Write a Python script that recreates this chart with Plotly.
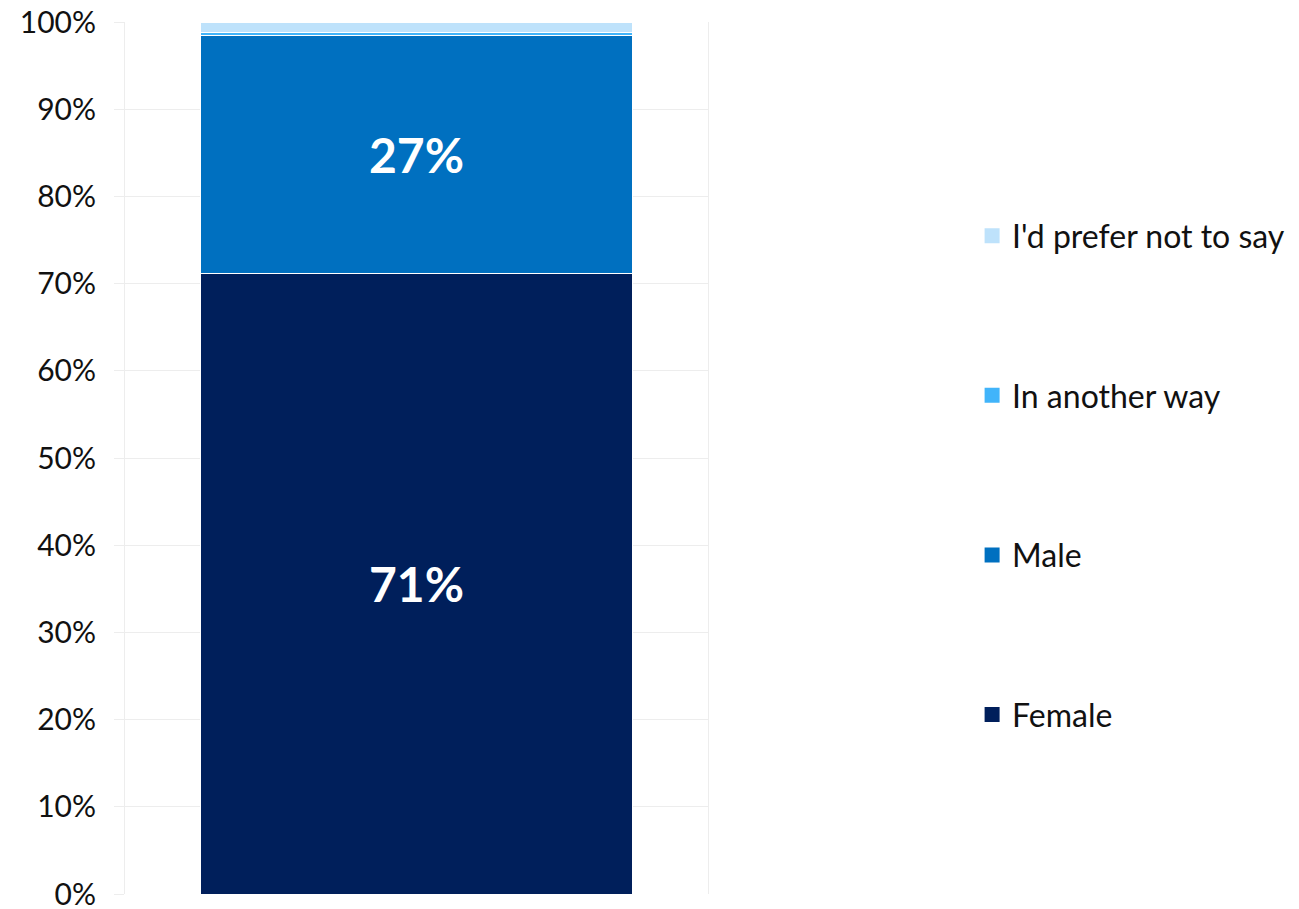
import plotly.graph_objects as go

categories = [0]
series_names = ["Female", "Male", "In another way", "I'd prefer not to say"]
series_values = [71.2, 27.3, 0.3, 1.2]
series_labels = ["71%", "27%", "", ""]
series_colors = ["#001F5B", "#0070C0", "#41B4FA", "#BEE2FB"]
y_ticks = list(range(0, 101, 10))
y_tick_labels = [f"{v}%" for v in y_ticks]

FONT = "Lato"
GRID = "#ededed"

fig = go.Figure()
for name, val, lab, col in zip(series_names, series_values, series_labels, series_colors):
    fig.add_trace(go.Bar(
        x=categories, y=[val], name=name, width=0.74,
        marker=dict(color=col, line=dict(color="white", width=1)),
        text=[lab], textposition="inside", insidetextanchor="middle",
        textfont=dict(family=FONT, size=48, color="white", weight="bold"),
        showlegend=False, hoverinfo="name+y",
    ))

# legend entries with larger square symbols (top to bottom: reversed order)
for rank, (name, col) in enumerate(zip(series_names, series_colors)):
    fig.add_trace(go.Scatter(
        x=[None], y=[None], mode="markers", name=name,
        marker=dict(symbol="square", size=15, color=col),
        legendrank=100 - rank, legendgroup=name,
    ))

fig.update_layout(
    barmode="stack",
    width=1299, height=909,
    margin=dict(l=125, r=591, t=22, b=15, autoexpand=False),
    plot_bgcolor="white", paper_bgcolor="white",
    font=dict(family=FONT, size=30, color="#111111"),
    xaxis=dict(visible=False, range=[-0.5, 0.5]),
    yaxis=dict(range=[0, 100], tickvals=y_ticks, ticktext=y_tick_labels,
               showgrid=True, gridcolor=GRID, gridwidth=1, zeroline=False,
               ticks="outside", ticklen=10, tickcolor=GRID,
               ticklabelstandoff=12, automargin=False,
               ticklabeloverflow="allow",
               showline=True, linecolor=GRID, mirror=True,
               tickfont=dict(family=FONT, size=30, color="#111111")),
    legend=dict(x=1.453, xanchor="left", y=0.48, yanchor="middle",
                traceorder="grouped", tracegroupgap=115,
                font=dict(family=FONT, size=32, color="#111111"),
                itemwidth=30),
    showlegend=True,
)

fig.write_html("out.html",
               config={"displayModeBar": False},
               post_script="document.body.style.margin='0';document.body.style.overflow='hidden';")
